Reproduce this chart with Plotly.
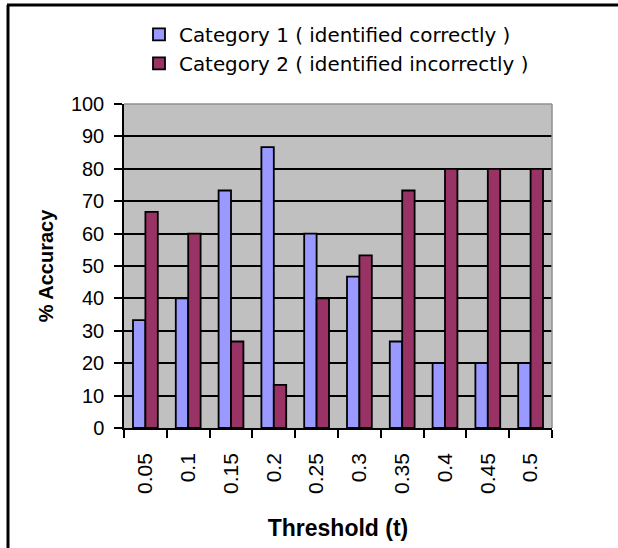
import plotly.graph_objects as go

thresholds = ["0.05", "0.1", "0.15", "0.2", "0.25", "0.3", "0.35", "0.4", "0.45", "0.5"]
category1 = [33.3, 40, 73.3, 86.7, 60, 46.7, 26.7, 20, 20, 20]
category2 = [66.7, 60, 26.7, 13.3, 40, 53.3, 73.3, 80, 80, 80]
y_ticks = [0, 10, 20, 30, 40, 50, 60, 70, 80, 90, 100]

W, H = 618, 548
L, R, T, B = 124, 66, 104, 120
pw, ph = W - L - R, H - T - B

def px(x):
    return (x - L) / pw

def py(y):
    return (H - B - y) / ph

FONT = "Liberation Sans, Arial, sans-serif"
LFONT = "DejaVu Sans, sans-serif"

fig = go.Figure()
fig.add_trace(go.Bar(x=thresholds, y=category1, name="Category 1 ( identified correctly )",
                     marker=dict(color="#9999FF", line=dict(color="black", width=1.8))))
fig.add_trace(go.Bar(x=thresholds, y=category2, name="Category 2 ( identified incorrectly )",
                     marker=dict(color="#993366", line=dict(color="black", width=1.8))))

fig.update_layout(
    width=W, height=H,
    margin=dict(l=L, r=R, t=T, b=B, pad=0),
    paper_bgcolor="white",
    plot_bgcolor="#C0C0C0",
    barmode="group",
    bargap=0.42,
    bargroupgap=0,
    font=dict(family=FONT, size=20, color="black"),
    showlegend=True,
    legend=dict(x=px(139), y=py(15), xanchor="left", yanchor="top",
                font=dict(family=LFONT, size=19.9, color="black"),
                bgcolor="rgba(0,0,0,0)", borderwidth=0,
                itemclick=False, itemdoubleclick=False),
    xaxis=dict(
        type="category",
        tickson="boundaries",
        ticks="outside", ticklen=8, tickcolor="black", tickwidth=1.5,
        tickangle=-90,
        tickfont=dict(family=FONT, size=21, color="black"),
        ticklabelstandoff=15,
        showline=True, linecolor="black", linewidth=1.5,
        showgrid=False,
        title=dict(text="<b>Threshold (t)</b>", font=dict(family=FONT, size=23, color="black"),
                   standoff=27),
    ),
    yaxis=dict(
        range=[0, 100],
        tickvals=y_ticks,
        ticks="outside", ticklen=8, tickcolor="black", tickwidth=1.5,
        tickfont=dict(family=FONT, size=20, color="black"),
        ticklabelstandoff=6,
        showline=True, linecolor="black", linewidth=1.5,
        showgrid=True, gridcolor="black", gridwidth=1.6,
        zeroline=False,
        title=dict(text="<b>% Accuracy</b>", font=dict(family=FONT, size=20, color="black"),
                   standoff=12),
    ),
    shapes=[
        # plot area top & right border (gray)
        dict(type="line", xref="paper", yref="paper", x0=0, x1=1, y0=1, y1=1,
             line=dict(color="#909090", width=1.5), layer="above"),
        dict(type="line", xref="paper", yref="paper", x0=1, x1=1, y0=0, y1=1,
             line=dict(color="#909090", width=1.5), layer="above"),
        # outer figure border (top and left)
        dict(type="line", xref="paper", yref="paper", x0=px(7), x1=px(620), y0=py(5), y1=py(5),
             line=dict(color="black", width=3)),
        dict(type="line", xref="paper", yref="paper", x0=px(8), x1=px(8), y0=py(5), y1=py(550),
             line=dict(color="black", width=3)),
    ],
)

fig.write_html("out.html", config={"displayModeBar": False},
               post_script="document.body.style.margin='0';")
